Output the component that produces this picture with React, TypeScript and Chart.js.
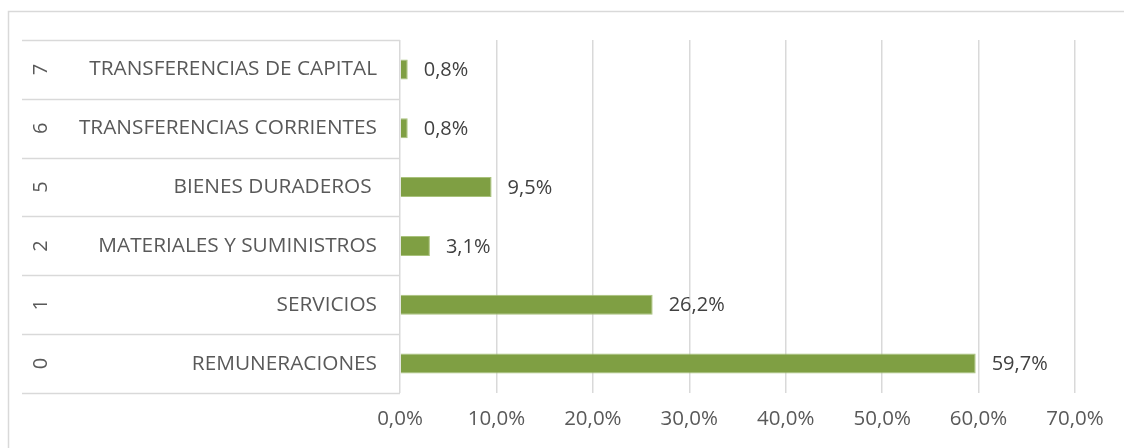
import React, { useEffect, useRef } from "react";
import { Chart, registerables } from "chart.js";

Chart.register(...registerables);

// Data, ordered bottom to top
const codes: string[] = ["0", "1", "2", "5", "6", "7"];
const names: string[] = [
  "REMUNERACIONES",
  "SERVICIOS",
  "MATERIALES Y SUMINISTROS",
  "BIENES DURADEROS ",
  "TRANSFERENCIAS CORRIENTES",
  "TRANSFERENCIAS DE CAPITAL",
];
const shares: number[] = [59.7, 26.2, 3.1, 9.5, 0.8, 0.8];
const axisMax = 70;
const axisStep = 10;

const FONT = "'Open Sans', sans-serif";
const fmt = (v: number) => v.toFixed(1).replace(".", ",") + "%";

const framePlugin = {
  id: "frame",
  beforeDraw(chart: any) {
    const ctx = chart.ctx;
    ctx.save();
    ctx.strokeStyle = "#d9d9d9";
    ctx.lineWidth = 1.5;
    ctx.beginPath();
    ctx.moveTo(8.5, chart.height);
    ctx.lineTo(8.5, 11.5);
    ctx.lineTo(chart.width, 11.5);
    ctx.stroke();
    ctx.restore();
  },
};

const categoryPlugin = {
  id: "categoryGroups",
  afterDraw(chart: any) {
    const ctx = chart.ctx;
    const y = chart.scales.y;
    const area = chart.chartArea;
    const n = codes.length;
    const step = Math.abs(y.getPixelForValue(1) - y.getPixelForValue(0));
    ctx.save();
    ctx.strokeStyle = "#d9d9d9";
    ctx.lineWidth = 1.5;
    for (let i = 0; i <= n; i++) {
      const py = i < n ? y.getPixelForValue(i) + step / 2 : y.getPixelForValue(n - 1) - step / 2;
      ctx.beginPath();
      ctx.moveTo(22, Math.round(py) + 0.5);
      ctx.lineTo(area.left, Math.round(py) + 0.5);
      ctx.stroke();
    }
    ctx.fillStyle = "#595959";
    ctx.font = `20px ${FONT}`;
    ctx.textAlign = "center";
    ctx.textBaseline = "middle";
    for (let i = 0; i < n; i++) {
      const py = y.getPixelForValue(i);
      ctx.save();
      ctx.translate(41, py);
      ctx.rotate(-Math.PI / 2);
      ctx.fillText(codes[i], 0, 0);
      ctx.restore();
    }
    ctx.restore();
  },
};

const valueLabelPlugin = {
  id: "valueLabels",
  afterDatasetsDraw(chart: any) {
    const ctx = chart.ctx;
    const meta = chart.getDatasetMeta(0);
    ctx.save();
    ctx.fillStyle = "#404040";
    ctx.font = `20px ${FONT}`;
    ctx.textAlign = "left";
    ctx.textBaseline = "middle";
    meta.data.forEach((bar: any, i: number) => {
      ctx.fillText(fmt(shares[i]), bar.x + 16, bar.y + 1);
    });
    ctx.restore();
  },
};

export default function App() {
  const ref = useRef<HTMLCanvasElement | null>(null);
  useEffect(() => {
    if (!ref.current) return;
    const chart = new Chart(ref.current, {
      type: "bar",
      data: {
        labels: names,
        datasets: [
          {
            data: shares,
            backgroundColor: "#7f9f43",
            borderColor: "#a9c27c",
            borderWidth: 1,
            barPercentage: 0.34,
            categoryPercentage: 1,
          },
        ],
      },
      options: {
        indexAxis: "y",
        animation: false,
        responsive: false,
        maintainAspectRatio: false,
        layout: { padding: { top: 40, right: 49, left: 0, bottom: 0 } },
        plugins: {
          legend: { display: false },
          tooltip: { enabled: false },
        },
        scales: {
          x: {
            min: 0,
            max: axisMax,
            ticks: {
              stepSize: axisStep,
              callback: (v: any) => fmt(Number(v)),
              color: "#595959",
              font: { family: FONT, size: 20.5 },
              padding: 14,
              maxRotation: 0,
            },
            grid: { color: "#d9d9d9", lineWidth: 1.5, drawTicks: false },
            border: { display: false },
            afterFit: (s: any) => {
              s.height = 55;
            },
          },
          y: {
            reverse: true,
            ticks: {
              color: "#595959",
              font: { family: FONT, size: 20.8 },
              padding: 23,
              autoSkip: false,
            },
            grid: { display: false, drawTicks: false },
            border: { display: false },
            afterFit: (s: any) => {
              s.width = 400;
            },
          },
        },
      },
      plugins: [framePlugin, categoryPlugin, valueLabelPlugin],
    });
    return () => chart.destroy();
  }, []);
  return (
    <div style={{ position: "absolute", left: 0, top: 0, width: 1124, height: 448, background: "#fff" }}>
      <canvas ref={ref} width={1124} height={448} style={{ display: "block" }} />
    </div>
  );
}
